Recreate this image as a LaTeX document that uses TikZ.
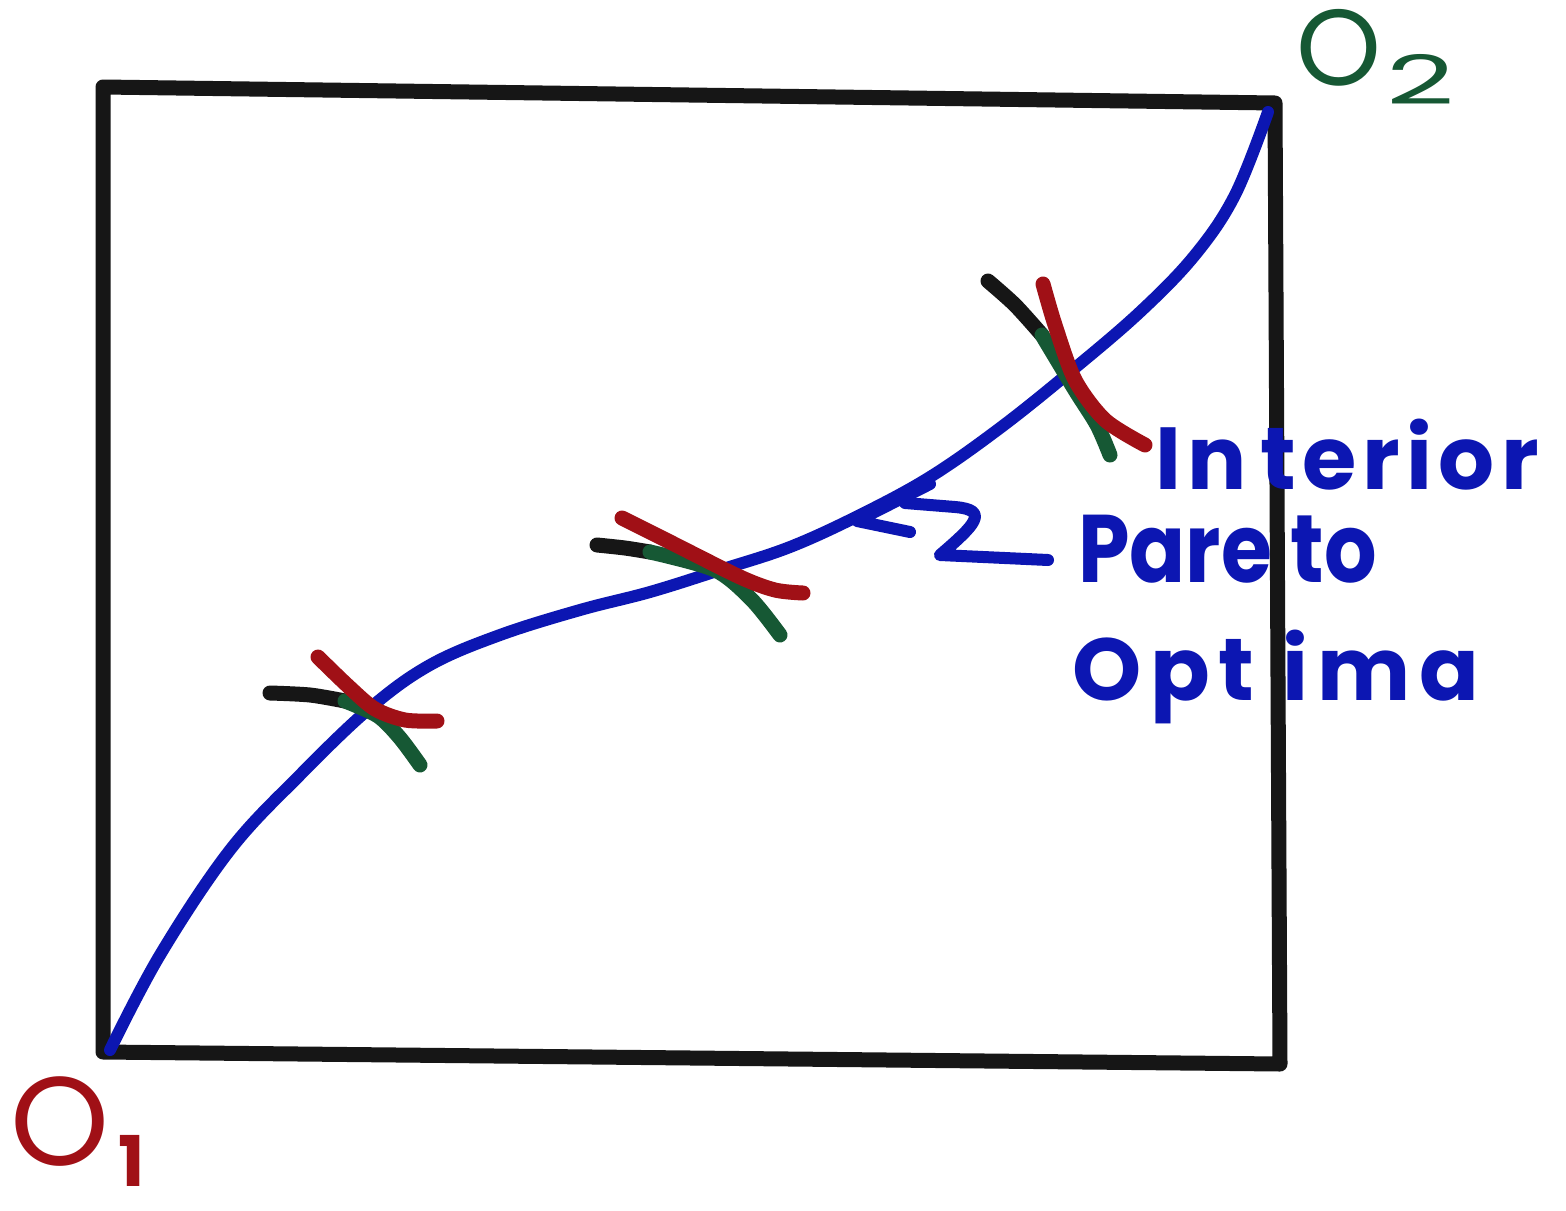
\documentclass[tikz,border=0pt]{standalone}
\usepackage{fontspec}
\setmainfont{Poppins}
\definecolor{penblue}{RGB}{12,22,178}
\definecolor{penred}{RGB}{160,16,22}
\definecolor{pengreen}{RGB}{22,88,52}
\definecolor{penblack}{RGB}{22,22,22}
\begin{document}
\begin{tikzpicture}[x=1pt,y=-1pt,
  pen/.style={line cap=round,line join=round},
  boxline/.style={pen,draw=penblack,line width=15pt},
  curve/.style={pen,draw=penblue,line width=12pt},
  tick/.style={pen,line width=15pt},
  word/.style={text=penblue,anchor=base west,inner sep=0pt}]
\useasboundingbox (0,0) rectangle (1566,1210);
\fill[white] (0,0) rectangle (1566,1210);
% box
\draw[boxline] (103,1052) -- (103,87) -- (1275,103) -- (1280,1064) -- cycle;
% contract curve
\draw[curve] plot[smooth,tension=0.6] coordinates {(110,1050) (160,955) (230,850) (300,775) (370,708) (430,665) (500,635) (580,610) (650,592) (720,570) (790,547) (860,515) (930,477) (1000,428) (1070,372) (1140,312) (1195,255) (1235,195) (1268,112)};
% cross 1
\draw[tick,penblack] plot[smooth] coordinates {(270,693) (310,695) (345,701)};
\draw[tick,pengreen] plot[smooth] coordinates {(345,701) (378,716) (400,738) (420,765)};
\draw[tick,penred] plot[smooth] coordinates {(318,657) (348,686) (375,709) (405,720) (437,721)};
% cross 2
\draw[tick,penblack] plot[smooth] coordinates {(597,545) (625,548) (650,552)};
\draw[tick,pengreen] plot[smooth] coordinates {(650,552) (715,570) (752,600) (780,635)};
\draw[tick,penred] plot[smooth] coordinates {(622,518) (670,542) (740,577) (775,590) (803,593)};
% cross 3
\draw[tick,penblack] plot[smooth] coordinates {(988,281) (1015,305) (1042,335)};
\draw[tick,pengreen] plot[smooth] coordinates {(1042,335) (1075,390) (1097,425) (1110,455)};
\draw[tick,penred] plot[smooth] coordinates {(1043,284) (1055,325) (1075,380) (1105,420) (1145,445)};
% labels
\node[word,font=\fontsize{88}{88}\selectfont\bfseries\addfontfeatures{LetterSpace=7}] (int) at (1155,489) {In\hspace{14pt}terior};
\node[word,font=\fontsize{96}{96}\selectfont\bfseries] (par) at (1078,582) {\scalebox{0.86}[1]{Pare\hspace{22pt}to}};
\node[word,font=\fontsize{88}{88}\selectfont\bfseries\addfontfeatures{LetterSpace=10}] (opt) at (1072,700) {Opt\hspace{28pt}ima};
% squiggle pointer
\coordinate (tip) at (857,521);
\draw[curve] (930,484) -- (tip) -- (910,532);
\draw[curve] (1048,560) -- (940,555) .. controls (975,525) and (990,510) .. (955,507) -- (905,503);
% origins
\node[text=penred,font=\fontsize{126}{126}\selectfont,anchor=base west,inner sep=0pt] (o1) at (10,1165) {O};
\node[text=penred,font=\fontsize{70}{70}\selectfont\bfseries,anchor=base west,inner sep=0pt] (o1sub) at (118,1186) {1};
\node[text=pengreen,font=\fontsize{108}{108}\selectfont,anchor=base west,inner sep=0pt] (o2) at (1296,85) {O};
\node[text=pengreen,font=\fontsize{68}{68}\selectfont,anchor=base west,inner sep=0pt] (o2sub) at (1386,104) {\scalebox{1.75}[1]{2}};
\end{tikzpicture}
\end{document}
